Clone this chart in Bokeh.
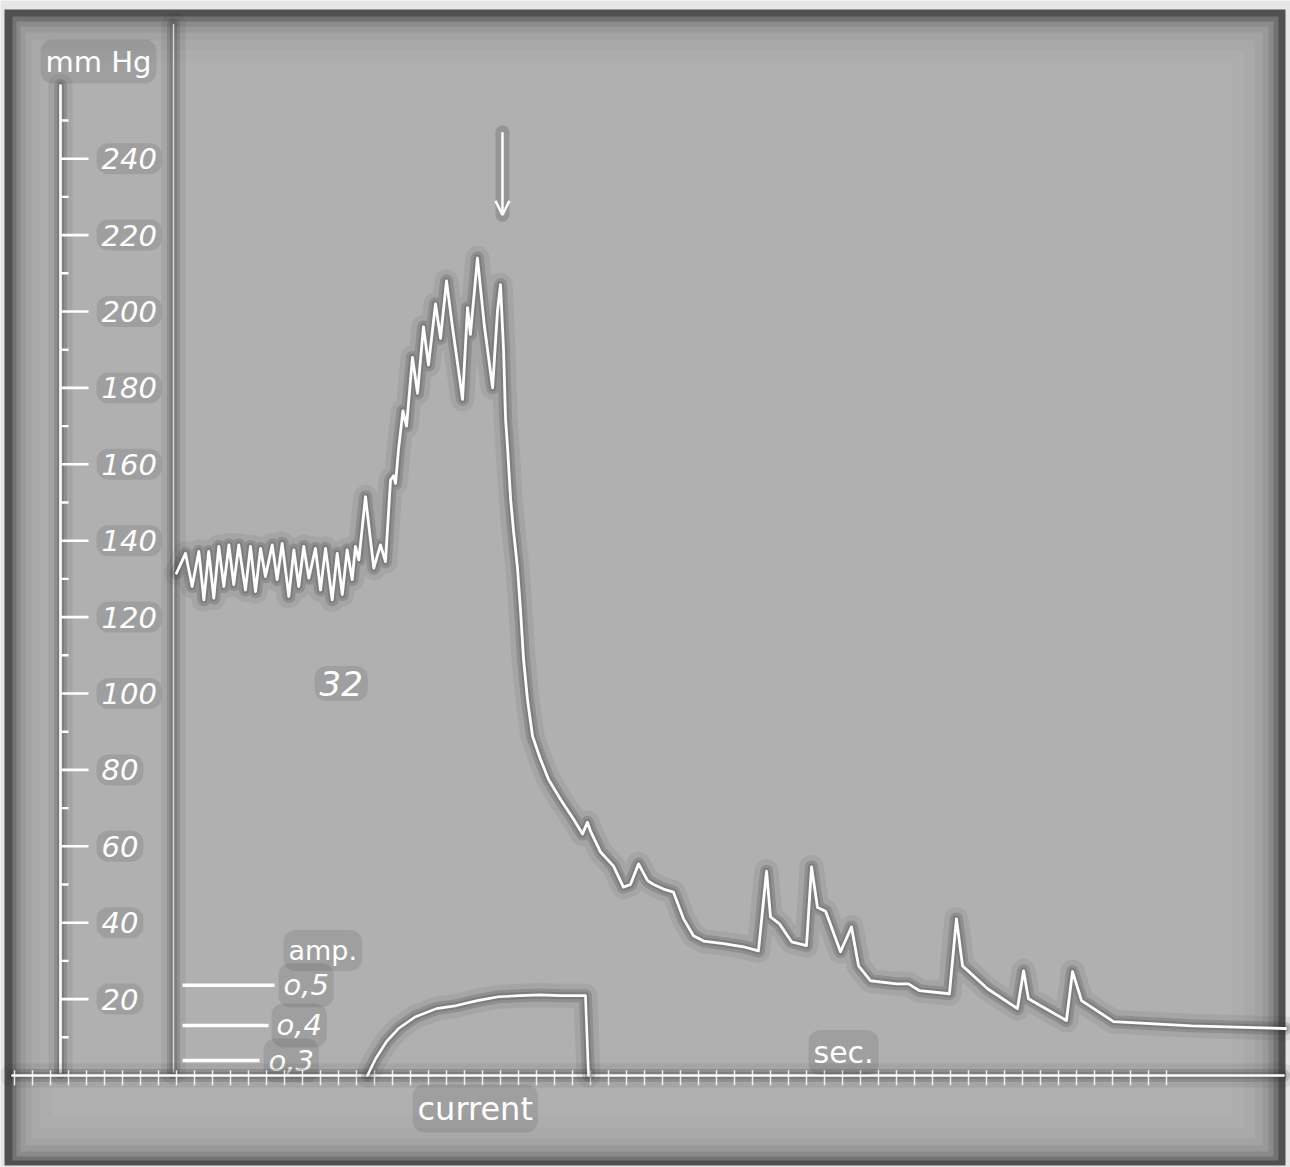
import numpy as np
from bokeh.plotting import figure
from bokeh.models import Range1d, Arrow, OpenHead
from bokeh.embed import file_html
from bokeh.resources import INLINE
from bokeh.core.properties import value

# ---------------- data (read from the recording) ----------------
# time in seconds (one timer mark = 1 s), blood pressure in mm Hg
pressure_t = [0.00, 0.50, 0.87, 1.24, 1.52, 1.79, 2.07, 2.35, 2.63, 2.91, 3.18, 3.46,
              3.83, 4.11, 4.39, 4.67, 4.94, 5.32, 5.59, 5.87, 6.24, 6.52, 6.79, 7.07,
              7.35, 7.72, 8.00, 8.28, 8.65, 8.93, 9.21, 9.48, 9.76, 9.94, 10.13, 10.50,
              10.96, 11.33, 11.61, 11.89, 12.06, 12.17, 12.33, 12.58, 12.78, 13.11, 13.39,
              13.72, 14.00, 14.39, 14.67, 15.00, 15.33, 15.89, 16.17, 16.33, 16.72, 17.11,
              17.56, 17.83, 18.00, 18.17, 18.28, 18.39, 18.56, 18.72, 18.94, 19.11, 19.28,
              19.50, 19.78, 20.22, 20.67, 21.33, 22.06, 22.56, 22.83, 23.00, 23.56, 24.28,
              24.83, 25.22, 25.67, 26.17, 26.50, 27.06, 27.61, 28.17, 28.72, 29.28, 30.39,
              31.50, 32.33, 32.78, 33.00, 33.50, 34.17, 35.00, 35.28, 35.61, 36.06, 36.89,
              37.50, 37.89, 38.56, 40.00, 40.67, 41.28, 42.94, 43.33, 43.67, 45.06, 46.72,
              47.06, 47.33, 49.44, 49.78, 50.28, 52.06, 56.39, 61.61]
pressure_mmHg = [131.5, 136.7, 128.0, 137.2, 124.5, 137.2, 125.0, 138.5, 128.0, 138.9, 128.5, 138.9,
                 127.1, 138.5, 126.7, 138.0, 130.6, 138.9, 129.8, 139.3, 125.4, 137.6, 128.0, 138.5,
                 130.2, 138.0, 127.1, 138.0, 124.5, 136.7, 125.9, 137.6, 129.8, 138.5, 135.0, 151.5,
                 132.8, 138.9, 134.5, 155.9, 157.0, 155.0, 163.7, 174.0, 170.0, 188.0, 178.6,
                 196.0, 186.0, 202.0, 193.0, 208.0, 196.0, 177.0, 201.0, 194.0, 214.0, 196.0,
                 180.0, 200.0, 207.0, 190.0, 172.0, 164.5, 151.0, 142.8, 133.0, 122.0, 109.0,
                 98.4, 88.8, 82.8, 77.5, 72.3, 67.1, 63.2, 66.3, 64.0, 58.5, 54.8,
                 49.3, 50.0, 55.4, 51.0, 50.0, 48.8, 48.0, 41.0, 36.6, 35.2, 34.5,
                 33.7, 32.6, 53.5, 41.5, 39.7, 35.0, 34.0, 54.6, 44.0, 43.0, 32.4,
                 38.9, 28.7, 24.8, 24.0, 24.0, 22.2, 21.4, 41.0, 28.7, 22.7, 17.5,
                 27.4, 20.1, 14.4, 27.2, 19.6, 14.1, 13.0, 12.3]

# stimulating current: galvanometer deflection drawn on the chart scale
current_t = [10.61, 11.06, 11.67, 12.33, 13.28, 14.44, 15.56, 16.72, 17.89, 19.06, 20.17, 21.33, 22.72, 22.89]
current_defl = [0.0, 4.4, 8.9, 12.3, 15.4, 17.5, 18.3, 19.6, 20.6, 20.9, 21.1, 20.9, 20.9, 0.0]

# current calibration marks
amp_labels = ["o,5", "o,4", "o,3"]
amp_defl = [23.6, 13.1, 3.9]

# pressure scale
major_ticks = [20, 40, 60, 80, 100, 120, 140, 160, 180, 200, 220, 240]
major_labels = ["20", "40", "60", "80", "100", "120", "140", "160", "180", "200", "220", "240"]
minor_ticks = [10, 30, 50, 70, 90, 110, 130, 150, 170, 190, 210, 230, 250]

# timer marks (seconds)
time_marks = list(range(-9, 56))

# ---------------- page geometry ----------------
W, H = 1290, 1167
PX_PER_S = 18.0
PX_PER_MMHG = 3.82
X0_PX = 176.0
Y0_PX = 1075.0


def tx(px):
    return (px - X0_PX) / PX_PER_S


def py(px):
    return (Y0_PX - px) / PX_PER_MMHG


p = figure(width=W, height=H, x_range=Range1d(tx(0), tx(W)), y_range=Range1d(py(H), py(0)),
           output_backend="svg", toolbar_location=None, x_axis_type=None, y_axis_type=None,
           min_border=0, outline_line_color=None,
           background_fill_color="#e6e6e6", border_fill_color="#e6e6e6")

# photographic frame with soft vignetting
frame_layers = [
    (4, 1285, 9, 1165, "#505050"),
    (12, 1278, 16, 1160, "#727272"),
    (16, 1273, 21, 1156, "#8a8a8a"),
    (20, 1268, 26, 1151, "#999999"),
    (25, 1262, 32, 1145, "#a3a3a3"),
    (31, 1254, 40, 1138, "#a9a9a9"),
    (40, 1244, 50, 1128, "#adadad"),
    (52, 1232, 62, 1116, "#b0b0b0"),
]
p.quad(left=[tx(l[0]) for l in frame_layers], right=[tx(l[1]) for l in frame_layers],
       top=[py(l[2]) for l in frame_layers], bottom=[py(l[3]) for l in frame_layers],
       fill_color=[l[4] for l in frame_layers], line_color=None)

HALO = "#2c2c2c"


def glow_line(xs, ys, w=2.6, alpha=1.0):
    p.line(xs, ys, line_color=HALO, line_width=24, line_alpha=0.08, line_join="round", line_cap="round")
    p.line(xs, ys, line_color=HALO, line_width=13, line_alpha=0.18, line_join="round", line_cap="round")
    p.line(xs, ys, line_color=HALO, line_width=7, line_alpha=0.18, line_join="round", line_cap="round")
    p.line(xs, ys, line_color="white", line_width=w, line_alpha=alpha, line_join="round", line_cap="round")


# separator of the scale panel
glow_line([tx(173), tx(173)], [py(24), py(1072)], w=1.5, alpha=0.7)

# pressure scale drawn on the record
axis_x = tx(60)
glow_line([axis_x, axis_x], [py(85), py(1072)], w=2.6)
p.segment(x0=[axis_x] * len(major_ticks), y0=major_ticks,
          x1=[axis_x + 28 / PX_PER_S] * len(major_ticks), y1=major_ticks,
          line_color="white", line_width=2.6)
p.segment(x0=[axis_x] * len(minor_ticks), y0=minor_ticks,
          x1=[axis_x + 8 / PX_PER_S] * len(minor_ticks), y1=minor_ticks,
          line_color="white", line_width=2.4)

label_kw = dict(text_color="white", text_baseline="middle", text_align="left",
                background_fill_color=HALO, background_fill_alpha=0.13,
                padding=5, border_radius=12)

p.text(x=[tx(96)] * len(major_ticks), y=major_ticks, text=major_labels,
       text_font=value("DejaVu Sans"), text_font_style="italic", text_font_size="29px", **label_kw)
p.text(x=[tx(40)], y=[py(61)], text=["mm Hg"], text_font=value("DejaVu Sans"),
       text_font_size="29px", **label_kw)
p.text(x=[tx(314)], y=[py(683)], text=["32"], text_font=value("DejaVu Sans"),
       text_font_style="italic", text_font_size="34px", **label_kw)

# current calibration marks
amp_end_px = [274, 268, 259]
amp_lab_px = [278, 271, 263]
p.segment(x0=[tx(182)] * 3, y0=amp_defl, x1=[tx(v) for v in amp_end_px], y1=amp_defl,
          line_color="white", line_width=3.5)
p.text(x=[tx(v) for v in amp_lab_px], y=amp_defl, text=amp_labels,
       text_font=value("DejaVu Sans"), text_font_style="italic", text_font_size="29px", **label_kw)
p.text(x=[tx(283)], y=[py(950)], text=["amp."], text_font=value("DejaVu Sans"),
       text_font_size="27px", **label_kw)

# timer / baseline
glow_line([tx(12), tx(1283)], [0, 0], w=2.6)
p.segment(x0=time_marks, y0=[-2.6] * len(time_marks), x1=time_marks, y1=[1.4] * len(time_marks),
          line_color="white", line_width=1.5, line_alpha=0.85)
p.text(x=[tx(808)], y=[py(1052)], text=["sec."], text_font=value("DejaVu Sans"),
       text_font_size="30px", **label_kw)
p.text(x=[tx(412)], y=[py(1108)], text=["current"], text_font=value("DejaVu Sans"),
       text_font_size="32px", **label_kw)

# traces
glow_line(current_t, current_defl, w=2.6)
glow_line(pressure_t, pressure_mmHg, w=2.8)

# marker arrow
arrow_t = 18.11
arrow_top, arrow_bottom = 246.9, 225.3
p.segment(x0=[arrow_t], y0=[arrow_top], x1=[arrow_t], y1=[arrow_bottom],
          line_color=HALO, line_width=14, line_alpha=0.2, line_cap="round")
p.add_layout(Arrow(end=OpenHead(size=14, line_color="white", line_width=2.5),
                   x_start=arrow_t, y_start=arrow_top, x_end=arrow_t, y_end=arrow_bottom,
                   line_color="white", line_width=2.5))

open("out.html", "w").write(file_html(p, INLINE))
